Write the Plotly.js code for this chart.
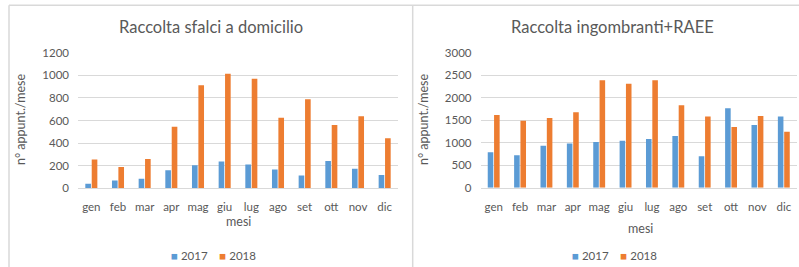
<!DOCTYPE html>
<html><head><meta charset="utf-8">
<script src="https://cdn.plot.ly/plotly-3.0.1.min.js"></script>
<style>html,body{margin:0;padding:0;background:#fff}#c{width:799px;height:267px}</style>
</head><body><div id="c"></div>
<script>
const months = ["gen","feb","mar","apr","mag","giu","lug","ago","set","ott","nov","dic"];
const sfalci2017 = [40, 70, 85, 160, 205, 237, 210, 167, 113, 242, 172, 118];
const sfalci2018 = [255, 189, 259, 545, 911, 1014, 970, 625, 787, 560, 637, 442];
const ingombranti2017 = [790, 720, 935, 980, 1015, 1045, 1085, 1150, 700, 1765, 1395, 1580];
const ingombranti2018 = [1615, 1490, 1550, 1675, 2385, 2310, 2385, 1830, 1580, 1350, 1595, 1245];
const seriesNames = ["2017", "2018"];
const title1 = "Raccolta sfalci a domicilio";
const title2 = "Raccolta ingombranti+RAEE";
const yTitle = "n° appunt./mese";
const xTitle = "mesi";

const W = 799, H = 267;
const px = v => v / W, py = v => 1 - v / H;
const blue = "#5B9BD5", orange = "#ED7D31";
const grey = "#595959", grid = "#D9D9D9";
const FONT = "Lato, 'Open Sans', sans-serif";

const traces = [
  {type:"bar", x:months, y:sfalci2017, name:seriesNames[0], marker:{color:blue}, xaxis:"x", yaxis:"y", showlegend:false},
  {type:"bar", x:months, y:sfalci2018, name:seriesNames[1], marker:{color:orange}, xaxis:"x", yaxis:"y", showlegend:false},
  {type:"bar", x:months, y:ingombranti2017, name:seriesNames[0], marker:{color:blue}, xaxis:"x2", yaxis:"y2", showlegend:false},
  {type:"bar", x:months, y:ingombranti2018, name:seriesNames[1], marker:{color:orange}, xaxis:"x2", yaxis:"y2", showlegend:false}
];

const xa = (d, anchor) => ({domain:d, anchor:anchor, showgrid:false, showline:true, linecolor:grid, linewidth:1,
  ticks:"", tickfont:{family:FONT, size:11.5, color:grey}, ticklabelstandoff:8, fixedrange:true});
const ya = (d, anchor, r, dt) => ({domain:d, anchor:anchor, range:r, dtick:dt, showgrid:true, gridcolor:grid, gridwidth:1,
  zeroline:false, showline:false, ticks:"", tickfont:{family:FONT, size:11.5, color:grey}, ticklabelstandoff:8, fixedrange:true});

const legendText = `<span style="color:${blue}">■</span> ${seriesNames[0]}    <span style="color:${orange}">■</span> ${seriesNames[1]}`;
const ann = (text, x, y, size, extra) => Object.assign({text, xref:"paper", yref:"paper", x:px(x), y:py(y),
  xanchor:"center", yanchor:"middle", showarrow:false, font:{family:FONT, size, color:grey}}, extra || {});

const layout = {
  width:W, height:H, margin:{l:0,r:0,t:0,b:0}, paper_bgcolor:"#fff", plot_bgcolor:"#fff",
  barmode:"group", bargap:0.52, bargroupgap:0.12, showlegend:false,
  font:{family:FONT, color:grey},
  xaxis: xa([px(78), px(398)], "y"),
  yaxis: ya([py(188.3), py(52.7)], "x", [0,1200], 200),
  xaxis2: xa([px(480.5), px(797)], "y2"),
  yaxis2: ya([py(187.7), py(52.7)], "x2", [0,3000], 500),
  annotations:[
    ann(title1, 211, 27, 16.5),
    ann(title2, 612, 27, 16.5),
    ann(xTitle, 239, 221, 12.5),
    ann(xTitle, 640, 228, 12.5),
    ann(yTitle, 20, 120, 12.5, {textangle:-90}),
    ann(yTitle, 423, 120, 12.5, {textangle:-90}),
    ann(legendText, 213, 255, 11.5),
    ann(legendText, 614, 255, 11.5)
  ],
  shapes:[
    {type:"line", xref:"paper", yref:"paper", x0:px(9), x1:px(9), y0:py(5.3), y1:-0.1, line:{color:grid, width:1.5}},
    {type:"line", xref:"paper", yref:"paper", x0:px(9), x1:1.05, y0:py(5.3), y1:py(5.3), line:{color:grid, width:1.5}},
    {type:"line", xref:"paper", yref:"paper", x0:px(412.7), x1:px(412.7), y0:py(5.3), y1:-0.1, line:{color:grid, width:1.5}}
  ]
};
Plotly.newPlot("c", traces, layout, {displayModeBar:false, staticPlot:true});
</script></body></html>
